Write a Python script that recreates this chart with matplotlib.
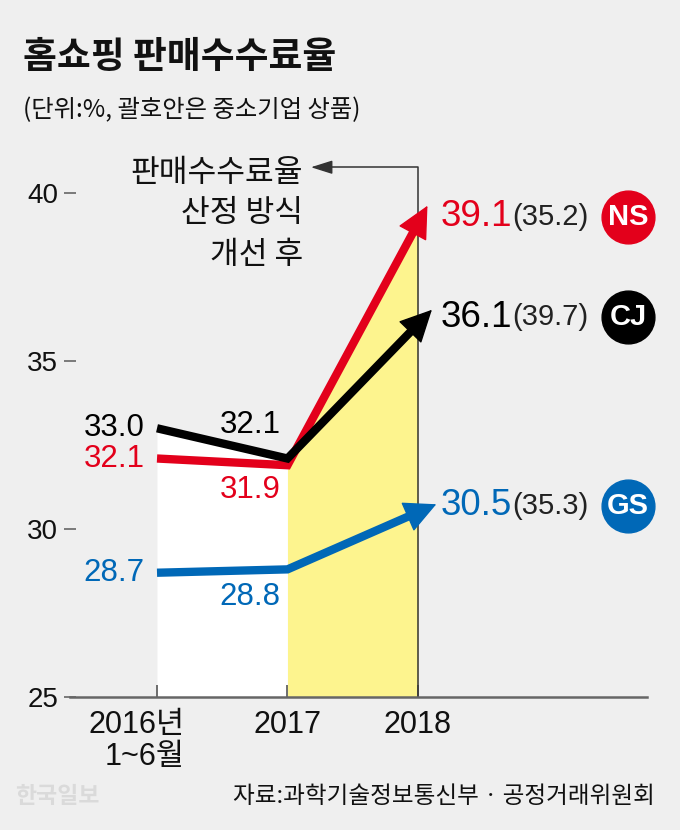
import numpy as np
import matplotlib
matplotlib.use('Agg')
import matplotlib.pyplot as plt

plt.rcParams['font.family'] = ['Noto Sans CJK KR', 'DejaVu Sans']

# data
periods = ['2016년\n1~6월', '2017', '2018']
companies = ['NS', 'CJ', 'GS']
ns_rate = [32.1, 31.9, 39.1]
cj_rate = [33.0, 32.1, 36.1]
gs_rate = [28.7, 28.8, 30.5]
sme_2018 = ['(35.2)', '(39.7)', '(35.3)']  # 괄호안은 중소기업 상품
y_ticks = [25, 30, 35, 40]

RED = '#e3001b'
BLACK = '#000000'
BLUE = '#0068b7'
YELLOW = '#fdf48e'
BG = '#efefef'
NUM_FONT = ['Liberation Sans', 'Noto Sans CJK KR']

fig = plt.figure(figsize=(6.8, 8.3), dpi=100, facecolor=BG)
ax = fig.add_axes([0.1029, 0.1602, 0.8485, 0.6711])
ax.set_facecolor('none')

x = np.arange(len(periods))
ax.set_xlim(-0.667, 3.755)
ax.set_ylim(25, 41.58)


def tip_point(p_from, p_to, ext_px):
    # push the arrow tip a few pixels past the last point, along the line
    a = ax.transData.transform(p_from)
    b = ax.transData.transform(p_to)
    u = (b - a) / np.hypot(*(b - a))
    return ax.transData.inverted().transform(b + u * ext_px)


# background bands under the lines
top = np.max([ns_rate, cj_rate, gs_rate], axis=0)
ax.fill_between(x[:2], 25, top[:2], color='white', lw=0, zorder=1)
ax.fill_between(x[1:], 25, top[1:], color=YELLOW, lw=0, zorder=1)

# "개선 후" marker line with arrow
ax.plot([x[2], x[2], 1.3], [25, 40.77, 40.77], color='#333333', lw=1.1, zorder=2)
ax.annotate('', xy=(1.18, 40.77), xytext=(1.32, 40.77),
            arrowprops=dict(arrowstyle='-|>,head_length=0.95,head_width=0.3', color='#333333',
                            lw=1.0, shrinkA=0, shrinkB=0, mutation_scale=14), zorder=2)
for yy, txt in zip([40.6, 39.4, 38.15], ['판매수수료율', '산정 방식', '개선 후']):
    ax.text(1.118, yy, txt, ha='right', va='center', fontsize=22.5, color='#111111')

series = [(gs_rate, BLUE, 3, -20), (ns_rate, RED, 4, -18), (cj_rate, BLACK, 5, 24)]
for vals, color, z, mid_off in series:
    ax.plot(x, vals, color=color, lw=6, solid_capstyle='butt',
            solid_joinstyle='miter', zorder=z)
    tip = tip_point((x[1], vals[1]), (x[2], vals[2]), 20)
    ax.annotate('', xy=tip, xytext=(x[1], vals[1]),
                arrowprops=dict(arrowstyle='-|>,head_length=1.05,head_width=0.52', color=color,
                                lw=1, shrinkA=0, shrinkB=0, mutation_scale=20),
                zorder=z)
    ax.annotate(f'{vals[0]:.1f}', xy=(x[0], vals[0]), xytext=(-9, 0), textcoords='offset points',
                ha='right', va='center', fontsize=22.5, color=color, family=NUM_FONT, zorder=6)
    ax.annotate(f'{vals[1]:.1f}', xy=(x[1], vals[1]), xytext=(-5, mid_off), textcoords='offset points',
                ha='right', va='center', fontsize=22.5, color=color, family=NUM_FONT, zorder=6)

# 2018 labels and company badges
for vals, color, name, sme in zip([ns_rate, cj_rate, gs_rate], [RED, BLACK, BLUE], companies, sme_2018):
    ly = vals[2] + 0.2
    ax.annotate(f'{vals[2]:.1f}', xy=(x[2], ly), xytext=(16, 0), textcoords='offset points',
                ha='left', va='center', fontsize=26.5, color=color, family=NUM_FONT, zorder=6)
    ax.text(2.72, ly, sme, ha='left', va='center', fontsize=21, color='#222222', family=NUM_FONT)
    ax.scatter([3.609], [ly], s=1444, color=color, zorder=6, clip_on=False)
    ax.text(3.609, ly, name, ha='center', va='center', fontsize=21, color='white',
            weight='bold', family=NUM_FONT, zorder=7)

# axes styling
for side in ['top', 'right', 'left']:
    ax.spines[side].set_visible(False)
ax.spines['bottom'].set_color('#666666')
ax.spines['bottom'].set_linewidth(1.8)

ax.set_yticks(y_ticks, labels=[str(t) for t in y_ticks], fontsize=20, family=NUM_FONT, color='#111111')
ax.tick_params(axis='y', direction='inout', length=9, width=1.2, color='#666666', pad=4)

ax.set_xticks(x, labels=[''] + periods[1:], fontsize=22, family=NUM_FONT, color='#111111')
ax.tick_params(axis='x', direction='in', length=9, width=1.2, color='#555555', pad=9)
ax.annotate(periods[0], xy=(x[0], 0), xycoords=('data', 'axes fraction'), xytext=(20, -9),
            textcoords='offset points', ha='right', va='top', fontsize=22, family=NUM_FONT,
            multialignment='right', linespacing=1.1, color='#111111')

fig.text(0.034, 0.931, '홈쇼핑 판매수수료율', fontsize=26.5, weight='bold', va='center', color='#111111')
fig.text(0.034, 0.867, '(단위:%, 괄호안은 중소기업 상품)', fontsize=17.5, va='center', color='#111111')
fig.text(0.963, 0.040, '자료:과학기술정보통신부 · 공정거래위원회', ha='right', va='center',
         fontsize=17, color='#111111')
fig.text(0.022, 0.040, '한국일보', fontsize=16.5, weight='bold', va='center', color='#dadada')

fig.savefig('out.png', dpi=100, facecolor=BG)
